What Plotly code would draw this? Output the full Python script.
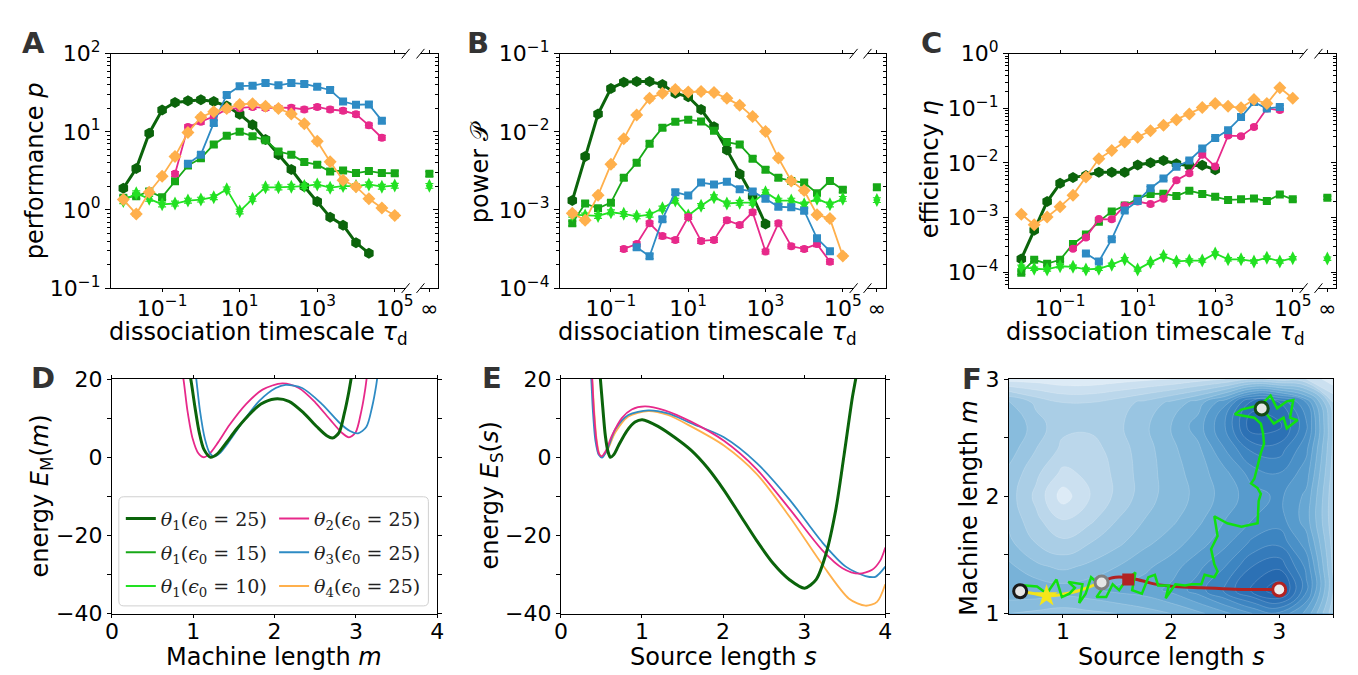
import plotly.graph_objects as go

W, H = 1358, 675

# ---------------- data ----------------
# dissociation timescales (1/3 decade steps) shared by panels A-C
tau_d = [0.01, 0.0215, 0.0464, 0.1, 0.215, 0.464, 1.0, 2.15, 4.64, 10.0, 21.5, 46.4,
         100.0, 215.0, 464.0, 1000.0, 2150.0, 4640.0, 10000.0, 21500.0, 46400.0, 100000.0]

# A: performance p
perf_dg = [1.9, 3.4, 9.6, 19, 23.8, 25, 25.8, 24.4, 21.4, 16.8, 12.3, 8.0, 5.1, 3.3, 2.0, 1.28,
           0.81, 0.64, 0.38, 0.28]
perf_g = [1.43, 1.5, 1.73, 1.46, 2.33, 3.7, 4.6, 6.9, 8.9, 10, 8.8, 7.8, 5.6, 5.1, 4.1, 3.8, 3.1,
          3.2, 2.97, 3.15, 2.97, 2.95]
perf_l = [1.3, 1.64, 1.39, 1.18, 1.21, 1.32, 1.36, 1.46, 1.84, 0.96, 1.39, 1.95, 1.95, 1.99, 2.02,
          2.12, 1.93, 2.02, 2.02, 2.12, 1.99, 2.05]
perf_pk = [2.9, 11.5, 13.5, 15.7, 19.5, 20, 20.8, 20.2, 20.2, 20.4, 19.3, 20.8, 19.3, 18.6, 16.8,
           12.1, 8.4]
perf_bl = [3.9, 5.1, 13, 29.7, 38.4, 39, 42, 39.4, 42, 41, 37.6, 34.3, 24.4, 22.2, 22.4, 13.9]
perf_or = [1.36, 0.89, 1.69, 2.7, 4.85, 9.8, 15.4, 18.1, 19.9, 22.4, 22.9, 21.2, 19.9, 16.9, 12.7,
           7.55, 4.13, 2.4, 1.99, 1.39, 1.06, 0.85]
perf_inf = [2.9, 2.04]  # green, lime at tau_d = infinity

# B: power
pow_dg = [1.32e-3, 4.85e-3, 1.69e-2, 3.59e-2, 4.3e-2, 4.41e-2, 4.41e-2, 4.02e-2, 3.12e-2, 2.81e-2,
          1.93e-2, 1.16e-2, 5.85e-3, 2.89e-3, 1.5e-3, 6.6e-4]
pow_g = [6.75e-4, 1.21e-3, 1.05e-3, 1.24e-3, 2.58e-3, 4.02e-3, 7.06e-3, 1.13e-2, 1.35e-2, 1.43e-2,
         1.36e-2, 1.03e-2, 7.4e-3, 6.87e-3, 4.54e-3, 3.27e-3, 2.58e-3, 2.35e-3, 2.24e-3, 1.64e-3,
         2.35e-3, 1.81e-3]
pow_l = [8.7e-4, 8.5e-4, 8.4e-4, 9.35e-4, 8.93e-4, 8.3e-4, 8.7e-4, 1.05e-3, 1.32e-3, 8.5e-4,
         1.13e-3, 1.46e-3, 1.21e-3, 1.24e-3, 1.24e-3, 1.69e-3, 1.32e-3, 1.32e-3, 1.18e-3, 1.39e-3,
         1.18e-3, 1.39e-3]
pow_pk = [3.18e-4, 3.66e-4, 6.75e-4, 4.63e-4, 4.13e-4, 8.13e-4, 4.02e-4, 4.13e-4, 7.4e-4, 6.43e-4,
          9.35e-4, 2.94e-4, 6.75e-4, 3.43e-4, 3.18e-4, 3.66e-4, 2.18e-4]
pow_bl = [3.33e-4, 2.56e-4, 7.62e-4, 1.69e-3, 1.53e-3, 2.24e-3, 2.12e-3, 2.29e-3, 1.84e-3, 1.73e-3,
          1.39e-3, 1.1e-3, 1.08e-3, 9.8e-4, 4.34e-4, 2.97e-4]
pow_or = [9.1e-4, 7.4e-4, 1.54e-3, 3.84e-3, 8.13e-3, 1.64e-2, 2.68e-2, 3.12e-2, 3.49e-2, 3.24e-2,
          3.27e-2, 3.18e-2, 2.68e-2, 2.18e-2, 1.57e-2, 1.01e-2, 4.62e-3, 2.35e-3, 1.77e-3, 8.7e-4,
          7.76e-4, 2.58e-4]
pow_inf = [1.95e-3, 1.34e-3]

# C: efficiency
eff_dg = [1.76e-4, 5.89e-4, 1.97e-3, 4.24e-3, 5.4e-3, 5.93e-3, 6.78e-3, 6.78e-3, 6.78e-3, 9.2e-3,
          1.01e-2, 1.11e-2, 9.7e-3, 8.87e-3, 9.1e-3, 7.55e-3]
eff_g = [9.86e-5, 1.69e-4, 1.44e-4, 1.69e-4, 3.3e-4, 4.94e-4, 8.45e-4, 1.3e-3, 1.66e-3, 2.22e-3,
         2.72e-3, 2.75e-3, 2.48e-3, 3.11e-3, 2.72e-3, 2.41e-3, 2.11e-3, 2.16e-3, 2.25e-3, 2.02e-3,
         2.65e-3, 2.16e-3]
eff_l = [1.26e-4, 1.16e-4, 1.13e-4, 1.29e-4, 1.26e-4, 1.13e-4, 1.16e-4, 1.38e-4, 1.73e-4, 1.13e-4,
         1.52e-4, 1.98e-4, 1.58e-4, 1.64e-4, 1.64e-4, 2.21e-4, 1.73e-4, 1.73e-4, 1.58e-4, 1.85e-4,
         1.58e-4, 1.81e-4]
eff_pk = [2.7e-4, 4.32e-4, 9.4e-4, 9.3e-4, 1.66e-3, 1.97e-3, 1.77e-3, 2.22e-3, 4.84e-3, 6.5e-3,
          1.42e-2, 8.63e-3, 3.17e-2, 3.09e-2, 4.56e-2, 9.93e-2, 9.29e-2]
eff_bl = [2.21e-4, 1.58e-4, 4.04e-4, 1.35e-3, 2.02e-3, 3.46e-3, 5.18e-3, 8.51e-3, 1.11e-2, 1.85e-2,
          2.85e-2, 3.99e-2, 6.92e-2, 0.13, 9.93e-2, 0.106]
eff_or = [1.15e-3, 7.4e-4, 1.03e-3, 1.59e-3, 2.58e-3, 5.54e-3, 1.19e-2, 1.69e-2, 2.43e-2, 2.97e-2,
          3.88e-2, 4.88e-2, 6.21e-2, 7.91e-2, 0.103, 0.122, 0.109, 0.102, 0.145, 0.122, 0.238, 0.153]
eff_inf = [2.31e-3, 1.78e-4]

# D: machine energy E_M(m)
m_dg = [0.948, 0.969, 1.021, 1.074, 1.131, 1.212, 1.293, 1.406, 1.528, 1.67, 1.832, 2.002, 2.176,
        2.359, 2.521, 2.642, 2.711, 2.792, 2.857, 2.914, 2.954]
em_dg = [21.8, 20, 12.8, 6.3, 2.0, 0, 0.8, 3.7, 7.1, 10.5, 13.6, 14.9, 14.3, 11.3, 7.8, 5.5, 4.9,
         6.3, 11.2, 16.9, 21.8]
m_pk = [0.859, 0.879, 0.928, 0.993, 1.062, 1.123, 1.196, 1.305, 1.447, 1.649, 1.852, 2.095, 2.298,
        2.501, 2.683, 2.825, 2.914, 2.995, 3.068, 3.116, 3.141]
em_pk = [21.8, 20, 12, 4.7, 1.0, 0, 0.8, 3.8, 8.3, 13.6, 17.3, 18.9, 17.7, 14.0, 9.6, 6.3, 5.1, 6.3,
         12, 17.7, 21.8]
m_bl = [1.025, 1.037, 1.082, 1.143, 1.204, 1.256, 1.325, 1.447, 1.609, 1.812, 2.014, 2.136, 2.338,
        2.582, 2.804, 2.926, 3.027, 3.129, 3.198, 3.25, 3.27]
em_bl = [21.8, 20, 12, 4.7, 1.0, 0.2, 1.0, 4.2, 9.1, 14.4, 17.7, 18.5, 17.7, 13.6, 8.7, 6.7, 6.1,
         7.8, 12.8, 18.5, 21.8]

# E: source energy E_S(s)
s_dg = [0.479, 0.487, 0.516, 0.548, 0.581, 0.609, 0.65, 0.711, 0.812, 0.914, 1.003, 1.198, 1.401,
        1.604, 1.807, 2.01, 2.213, 2.416, 2.619, 2.822, 3.005, 3.147, 3.269, 3.391, 3.492, 3.594,
        3.635, 3.655]
es_dg = [21.8, 20, 12.8, 5.5, 1.4, 0, 0.6, 3.0, 6.7, 9.0, 9.6, 7.9, 5.1, 1.8, -2.7, -8.4, -14.9,
         -21.4, -27.2, -31.4, -33.5, -31.3, -24.7, -13.3, 0.6, 15.3, 20, 22.6]
s_pk = [0.378, 0.386, 0.406, 0.435, 0.467, 0.5, 0.548, 0.629, 0.751, 0.873, 1.036, 1.279, 1.604,
        2.01, 2.416, 2.822, 3.228, 3.472, 3.675, 3.838, 3.939, 4.0]
es_pk = [21.8, 20, 12, 4.7, 1.0, 0.2, 1.4, 5.5, 10, 12.2, 13, 12, 9.1, 4.2, -3.1, -13.3, -23.9,
         -28.4, -29.8, -28.8, -26.4, -23.1]
s_bl = [0.365, 0.374, 0.394, 0.426, 0.467, 0.508, 0.569, 0.67, 0.832, 1.076, 1.32, 1.604, 2.01,
        2.416, 2.822, 3.228, 3.513, 3.756, 3.878, 4.0]
es_bl = [21.8, 20, 12, 4.2, 0.6, -0.1, 1.8, 7.1, 10.8, 12, 11.2, 8.7, 5.1, -1.5, -10.9, -21.9,
         -28, -30.4, -30.6, -28]
s_or = [0.378, 0.386, 0.41, 0.439, 0.475, 0.508, 0.569, 0.67, 0.832, 1.076, 1.32, 1.604, 2.01,
        2.416, 2.822, 3.228, 3.553, 3.756, 3.898, 4.0]
es_or = [21.8, 20, 12, 4.7, 0.8, 0.2, 1.6, 6.3, 10.4, 11.8, 10.8, 7.9, 3.0, -4.3, -15.3, -27.6,
         -36.2, -38, -37, -32.5]

# F: energy landscape and trajectories
land_s = [0.5, 0.75, 1.0, 1.25, 1.5, 1.75, 2.0, 2.25, 2.5, 2.75, 3.0, 3.25, 3.5]
land_m = [1.0, 1.2, 1.4, 1.6, 1.8, 2.0, 2.2, 2.4, 2.6, 2.8, 3.0]
land_z = [
    [6, 7, 8, 7, 6, 4, 2, -1, -5, -10, -13, -5, 13],
    [-1, -1, 0, -1, -3, -4, -7, -12, -19, -27, -33, -15, 10],
    [1, 5, 7, 5, 2, -1, -4, -9, -14, -22, -25, -13, 11],
    [5, 10, 13, 10, 7, 3, 0, -4, -9, -15, -17, -8, 12],
    [7, 13, 18, 15, 10, 6, 3, -1, -6, -10, -12, -4, 13],
    [8, 15, 24, 18, 13, 8, 4, 1, -4, -8, -11, -5, 13],
    [7, 13, 19, 17, 13, 8, 4, 0, -5, -12, -14, -8, 12],
    [4, 10, 15, 16, 12, 8, 3, -1, -10, -19, -20, -11, 11],
    [2, 8, 13, 13, 11, 7, 2, -4, -14, -29, -27, -15, 11],
    [5, 11, 14, 14, 12, 9, 5, 0, -9, -24, -22, -10, 14],
    [24, 24, 25, 25, 24, 23, 22, 20, 18, 14, 16, 18, 25],
]

traj_s = [0.6, 0.63, 0.76, 0.85, 0.94, 0.99, 1.06, 1.11, 1.05, 1.18, 1.15, 1.21, 1.26, 1.37, 1.31,
          1.4, 1.46, 1.52, 1.58, 1.67, 1.64, 1.73, 1.79, 1.85, 1.88, 1.98, 1.95, 2.04, 2.13, 2.19,
          2.28, 2.31, 2.4, 2.43, 2.4, 2.37, 2.43, 2.4, 2.52, 2.65, 2.8, 2.81, 2.83, 2.8, 2.74, 2.77,
          2.8, 2.83, 2.86, 2.85, 2.83, 2.77, 2.59, 2.65, 2.83, 2.92, 2.98, 3.07, 3.13, 3.1, 3.17,
          3.07, 3.04, 2.95, 2.86, 2.89]
traj_m = [1.2, 1.24, 1.23, 1.17, 1.29, 1.14, 1.17, 1.22, 1.27, 1.25, 1.09, 1.17, 1.31, 1.22, 1.14,
          1.14, 1.25, 1.2, 1.28, 1.35, 1.2, 1.17, 1.31, 1.33, 1.24, 1.24, 1.13, 1.25, 1.24, 1.25,
          1.25, 1.33, 1.31, 1.36, 1.42, 1.55, 1.66, 1.83, 1.77, 1.74, 1.77, 1.96, 2.02, 2.07, 2.11,
          2.15, 2.26, 2.37, 2.45, 2.54, 2.62, 2.67, 2.7, 2.74, 2.78, 2.86, 2.75, 2.81, 2.82, 2.67,
          2.65, 2.58, 2.67, 2.62, 2.73, 2.78]
yellow_s = [0.604, 0.726, 0.848, 1.0, 1.152, 1.274, 1.357]
yellow_m = [1.19, 1.17, 1.15, 1.164, 1.197, 1.238, 1.265]
red_s = [1.357, 1.457, 1.604, 1.732, 1.854, 2.037, 2.28, 2.585, 3.0]
red_m = [1.265, 1.306, 1.306, 1.279, 1.251, 1.23, 1.219, 1.208, 1.205]
start_pt = [0.604, 1.19]
mid_pt = [1.357, 1.265]
star_pt = [0.848, 1.15]
square_pt = [1.604, 1.29]
end_low = [3.0, 1.205]
end_high = [2.838, 2.749]

# ---------------- style ----------------
C_DG, C_G, C_L = '#0b640b', '#17a817', '#22e122'
C_PK, C_BL, C_OR = '#e7298a', '#2e8bc4', '#ffb04c'
FONT = 'DejaVu Sans'
TICK = 22
TITLE = 24


def px_x(v):
    return v / W


def px_y(v):
    return 1 - v / H


fig = go.Figure()

# panel geometry in pixels: (main left, main right, inf left, inf right)
top_cols = {'A': (97, 395, 410, 428), 'B': (551, 848, 862, 881), 'C': (1005, 1303, 1318, 1336)}
top_y = (31, 276)
bot_cols = {'D': (98, 427), 'E': (552, 880), 'F': (1005, 1333)}
bot_y = (371, 616)

series = [  # name, colour, symbol, size, width, start index in tau_d
    ('dg', C_DG, 'hexagon', 11, 3, 0),
    ('g', C_G, 'square', 8, 1.8, 0),
    ('l', C_L, 'diamond-tall', 10, 1.8, 0),
    ('pk', C_PK, 'circle', 8, 1.8, 4),
    ('bl', C_BL, 'square', 8, 1.8, 5),
    ('or', C_OR, 'diamond', 10, 1.8, 0),
]
panel_data = {
    'A': dict(dg=perf_dg, g=perf_g, l=perf_l, pk=perf_pk, bl=perf_bl, inf=perf_inf, **{'or': perf_or}),
    'B': dict(dg=pow_dg, g=pow_g, l=pow_l, pk=pow_pk, bl=pow_bl, inf=pow_inf, **{'or': pow_or}),
    'C': dict(dg=eff_dg, g=eff_g, l=eff_l, pk=eff_pk, bl=eff_bl, inf=eff_inf, **{'or': eff_or}),
}
y_ranges = {'A': [-1, 2], 'B': [-4, -1], 'C': [-4.29, 0]}
y_ticks = {
    'A': ([0.1, 1, 10, 100], ['10<sup>−1</sup>', '10<sup>0</sup>', '10<sup>1</sup>', '10<sup>2</sup>']),
    'B': ([1e-4, 1e-3, 1e-2, 1e-1], ['10<sup>−4</sup>', '10<sup>−3</sup>', '10<sup>−2</sup>', '10<sup>−1</sup>']),
    'C': ([1e-4, 1e-3, 1e-2, 1e-1, 1], ['10<sup>−4</sup>', '10<sup>−3</sup>', '10<sup>−2</sup>',
                                        '10<sup>−1</sup>', '10<sup>0</sup>']),
}
minor_vals = [k * 10 ** e for e in range(-6, 3) for k in range(2, 10)]

axis_base = dict(showgrid=False, zeroline=False, showline=True, linecolor='black', linewidth=1,
                 tickcolor='black', tickfont=dict(family=FONT, size=TICK, color='black'))
xaxis_top = dict(axis_base, ticklabelstandoff=-3)
xaxis_bot = dict(axis_base, ticklabelstandoff=-5)

layout_axes = {}
ax_idx = 1
for panel in ['A', 'B', 'C']:
    ml, mr, il, ir = top_cols[panel]
    ydom = [px_y(top_y[1]), px_y(top_y[0])]
    xm, xi = ax_idx, ax_idx + 1
    xm_n = '' if xm == 1 else str(xm)
    xi_n = str(xi)
    layout_axes['xaxis' + xm_n] = dict(xaxis_top, type='log', domain=[px_x(ml), px_x(mr)],
                                       anchor='y' + xm_n, range=[-2.32, 5.28], tickmode='array',
                                       tickvals=[0.1, 10, 1e3, 1e5],
                                       ticktext=['10<sup>−1</sup>', '10<sup>1</sup>', '10<sup>3</sup>',
                                                 '10<sup>5</sup>'],
                                       ticks='outside', ticklen=3, mirror='ticks')
    layout_axes['yaxis' + xm_n] = dict(axis_base, type='log', domain=ydom, anchor='x' + xm_n,
                                       range=y_ranges[panel], tickmode='array',
                                       tickvals=y_ticks[panel][0], ticktext=y_ticks[panel][1],
                                       ticks='outside', ticklen=5,
                                       minor=dict(tickmode='array', tickvals=minor_vals,
                                                  ticks='outside', ticklen=3, tickcolor='black'))
    layout_axes['xaxis' + xi_n] = dict(xaxis_top, domain=[px_x(il), px_x(ir)], anchor='y' + xi_n,
                                       range=[0, 2], tickmode='array', tickvals=[1],
                                       ticktext=['∞'], ticks='outside', ticklen=3, mirror='ticks')
    layout_axes['yaxis' + xi_n] = dict(axis_base, type='log', domain=ydom, anchor='x' + xi_n,
                                       range=y_ranges[panel], side='right', tickmode='array',
                                       tickvals=y_ticks[panel][0], showticklabels=False,
                                       ticks='inside', ticklen=5,
                                       minor=dict(tickmode='array', tickvals=minor_vals,
                                                  ticks='inside', ticklen=3, tickcolor='black'))

    data = panel_data[panel]
    for key, col, sym, size, lw, start in series:
        vals = data[key]
        fig.add_trace(go.Scatter(
            x=tau_d[start:start + len(vals)], y=vals, mode='lines+markers',
            line=dict(color=col, width=lw), marker=dict(symbol=sym, size=size, color=col),
            error_y=dict(type='percent', value=7, thickness=1.2, width=4, color=col),
            xaxis='x' + xm_n, yaxis='y' + xm_n, showlegend=False))
    for key, col, sym, size, lw, start in series[1:3]:
        val = data['inf'][0 if key == 'g' else 1]
        fig.add_trace(go.Scatter(
            x=[1], y=[val], mode='markers', marker=dict(symbol=sym, size=size, color=col),
            error_y=dict(type='percent', value=7, thickness=1.2, width=4, color=col),
            xaxis='x' + xi_n, yaxis='y' + xi_n, showlegend=False))
    ax_idx += 2

# bottom row axes: D -> x7/y7, E -> x8/y8, F -> x9/y9
energy_ticks = [-40, -30, -20, -10, 0, 10, 20]
energy_text = ['−40', '', '−20', '', '0', '', '20']
for panel, n in [('D', '7'), ('E', '8')]:
    l, r = bot_cols[panel]
    layout_axes['xaxis' + n] = dict(xaxis_bot, domain=[px_x(l), px_x(r)], anchor='y' + n,
                                    range=[0, 4], tickmode='array', tickvals=[0, 1, 2, 3, 4],
                                    ticks='outside', ticklen=3, mirror='ticks')
    layout_axes['yaxis' + n] = dict(axis_base, domain=[px_y(bot_y[1]), px_y(bot_y[0])],
                                    anchor='x' + n, range=[-40, 20], tickmode='array',
                                    tickvals=energy_ticks, ticktext=energy_text,
                                    ticks='outside', ticklen=4, mirror='ticks')
l, r = bot_cols['F']
layout_axes['xaxis9'] = dict(xaxis_bot, domain=[px_x(l), px_x(r)], anchor='y9', range=[0.5, 3.5],
                             tickmode='array', tickvals=[1, 1.5, 2, 2.5, 3, 3.5],
                             ticktext=['1', '', '2', '', '3', ''], ticks='outside', ticklen=3,
                             mirror=True)
layout_axes['yaxis9'] = dict(axis_base, domain=[px_y(bot_y[1]), px_y(bot_y[0])], anchor='x9',
                             range=[1, 3], tickmode='array', tickvals=[1, 1.5, 2, 2.5, 3],
                             ticktext=['1', '', '2', '', '3'], ticks='outside', ticklen=4,
                             mirror=True)

# D curves
for xs, ys, col, lw in [(m_pk, em_pk, C_PK, 1.8), (m_bl, em_bl, C_BL, 1.8), (m_dg, em_dg, C_DG, 3)]:
    fig.add_trace(go.Scatter(x=xs, y=ys, mode='lines', line=dict(color=col, width=lw, shape='spline',
                                                                   smoothing=0.8),
                             xaxis='x7', yaxis='y7', showlegend=False))
# E curves
for xs, ys, col, lw in [(s_or, es_or, C_OR, 1.8), (s_bl, es_bl, C_BL, 1.8), (s_pk, es_pk, C_PK, 1.8),
                        (s_dg, es_dg, C_DG, 3)]:
    fig.add_trace(go.Scatter(x=xs, y=ys, mode='lines', line=dict(color=col, width=lw, shape='spline',
                                                                   smoothing=0.8),
                             xaxis='x8', yaxis='y8', showlegend=False))

# legend entries (two columns)
legend_items = [
    ('legend', '<i>θ</i><sub>1</sub>(<i>ϵ</i><sub>0</sub> = 25)', C_DG, 3),
    ('legend', '<i>θ</i><sub>1</sub>(<i>ϵ</i><sub>0</sub> = 15)', C_G, 2),
    ('legend', '<i>θ</i><sub>1</sub>(<i>ϵ</i><sub>0</sub> = 10)', C_L, 2),
    ('legend2', '<i>θ</i><sub>2</sub>(<i>ϵ</i><sub>0</sub> = 25)', C_PK, 2),
    ('legend2', '<i>θ</i><sub>3</sub>(<i>ϵ</i><sub>0</sub> = 25)', C_BL, 2),
    ('legend2', '<i>θ</i><sub>4</sub>(<i>ϵ</i><sub>0</sub> = 25)', C_OR, 2),
]
for i, (lg, name, col, lw) in enumerate(legend_items):
    fig.add_trace(go.Scatter(x=[None], y=[None], mode='lines', name=name,
                             line=dict(color=col, width=lw), legend=lg, legendgroup='g%d' % i,
                             xaxis='x7', yaxis='y7'))

# F landscape
blues = [[0, '#1a5aa4'], [0.15, '#2a6fb3'], [0.3, '#3d85c1'], [0.45, '#5a9ecf'],
         [0.6, '#80b8db'], [0.75, '#a6cce5'], [0.9, '#cbe0f0'], [1.0, '#e6f0f9']]
fig.add_trace(go.Contour(x=land_s, y=land_m, z=land_z, colorscale=blues, zmin=-34, zmax=26,
                         contours=dict(start=-34, end=26, size=4, coloring='fill'),
                         line=dict(color='rgba(255,255,255,0.3)', width=0.6, smoothing=1.3),
                         showscale=False, hoverinfo='skip', xaxis='x9', yaxis='y9'))
fig.add_trace(go.Scatter(x=yellow_s, y=yellow_m, mode='lines', line=dict(color='#f2e31a', width=3,
                                                                          shape='spline'),
                         xaxis='x9', yaxis='y9', showlegend=False))
fig.add_trace(go.Scatter(x=red_s, y=red_m, mode='lines', line=dict(color='#b22222', width=3,
                                                                    shape='spline'),
                         xaxis='x9', yaxis='y9', showlegend=False))
fig.add_trace(go.Scatter(x=traj_s, y=traj_m, mode='lines', line=dict(color='#11e011', width=2.5),
                         xaxis='x9', yaxis='y9', showlegend=False))
for pt, sym, size, fill, edge, ew in [
        (star_pt, 'star', 17, '#f5e61a', '#f5e61a', 0),
        (square_pt, 'square', 12, '#b22222', '#b22222', 0),
        (start_pt, 'circle', 13, '#e6e6e6', '#1a1a1a', 3),
        (mid_pt, 'circle', 13, '#e6e6e6', '#808080', 3),
        (end_low, 'circle', 13, '#eeeeee', '#b22222', 3),
        (end_high, 'circle', 13, '#e6e6e6', '#164a16', 3)]:
    fig.add_trace(go.Scatter(x=[pt[0]], y=[pt[1]], mode='markers',
                             marker=dict(symbol=sym, size=size, color=fill,
                                         line=dict(color=edge, width=ew)),
                             xaxis='x9', yaxis='y9', showlegend=False))

# ---------------- decorations ----------------
shapes = []
# horizontal reference line p = 1 in panel A (log axes -> log10 value)
for xr, yr in [('x domain', 'y'), ('x2 domain', 'y2')]:
    shapes.append(dict(type='line', xref=xr, yref=yr, x0=0, x1=1, y0=0, y1=0,
                       line=dict(color='black', width=1)))
# break marks on the broken axes
for panel in ['A', 'B', 'C']:
    ml, mr, il, ir = top_cols[panel]
    for xb in (mr, il):
        for yb in top_y:
            shapes.append(dict(type='line', xref='paper', yref='paper',
                               x0=px_x(xb - 4), x1=px_x(xb + 4), y0=px_y(yb + 5), y1=px_y(yb - 5),
                               line=dict(color='black', width=1)))
# legend frame
bx0, bx1, by0, by1, rr = 105, 418, 494, 608, 5
path = ('M {a},{b} L {c},{b} Q {d},{b} {d},{e} L {d},{f} Q {d},{g} {c},{g} L {a},{g} '
        'Q {h},{g} {h},{f} L {h},{e} Q {h},{b} {a},{b} Z').format(
    a=px_x(bx0 + rr), b=px_y(by0), c=px_x(bx1 - rr), d=px_x(bx1), e=px_y(by0 + rr),
    f=px_y(by1 - rr), g=px_y(by1), h=px_x(bx0))
shapes.append(dict(type='path', xref='paper', yref='paper', path=path, layer='above',
                   fillcolor='rgba(255,255,255,0.8)', line=dict(color='#d0d0d0', width=1)))

annotations = []
for txt, x, y in [('A', 19, 20), ('B', 468, 20), ('C', 927, 20), ('D', 28, 370), ('E', 482, 370),
                  ('F', 968, 371)]:
    annotations.append(dict(text='<b>%s</b>' % txt, x=px_x(x), y=px_y(y), xref='paper', yref='paper',
                            showarrow=False, xanchor='center', yanchor='middle',
                            font=dict(family=FONT, size=29, color='#333333')))
titles = [
    ('performance <i>p</i>', 21, 153, -90), ('power 𝒫', 471, 155, -90),
    ('efficiency <i>η</i>', 926, 152, -90),
    ('dissociation timescale <i>τ</i><sub>d</sub>', 246, 323, 0),
    ('dissociation timescale <i>τ</i><sub>d</sub>', 700, 323, 0),
    ('dissociation timescale <i>τ</i><sub>d</sub>', 1153, 323, 0),
    ('energy <i>E</i><sub>M</sub>(<i>m</i>)', 27, 493, -90),
    ('energy <i>E</i><sub>S</sub>(<i>s</i>)', 482, 493, -90),
    ('Machine length <i>m</i>', 965, 505, -90),
    ('Machine length <i>m</i>', 262, 661, 0),
    ('Source length <i>s</i>', 716, 661, 0),
    ('Source length <i>s</i>', 1169, 661, 0),
]
for txt, x, y, ang in titles:
    annotations.append(dict(text=txt, x=px_x(x), y=px_y(y), xref='paper', yref='paper',
                            showarrow=False, xanchor='center', yanchor='middle', textangle=ang,
                            font=dict(family=FONT, size=TITLE, color='black')))

legend_style = dict(xanchor='left', yanchor='top', bgcolor='rgba(0,0,0,0)', borderwidth=0,
                    font=dict(family='DejaVu Serif', size=19, color='#222222'),
                    traceorder='grouped', tracegroupgap=6, itemwidth=30)

fig.update_layout(
    width=W, height=H, margin=dict(l=0, r=0, t=0, b=0),
    paper_bgcolor='white', plot_bgcolor='white',
    font=dict(family=FONT, size=TICK, color='black'),
    shapes=shapes, annotations=annotations,
    legend=dict(legend_style, x=px_x(107), y=px_y(497)),
    legend2=dict(legend_style, x=px_x(262), y=px_y(497)),
    **layout_axes)

fig.write_html("out.html")
